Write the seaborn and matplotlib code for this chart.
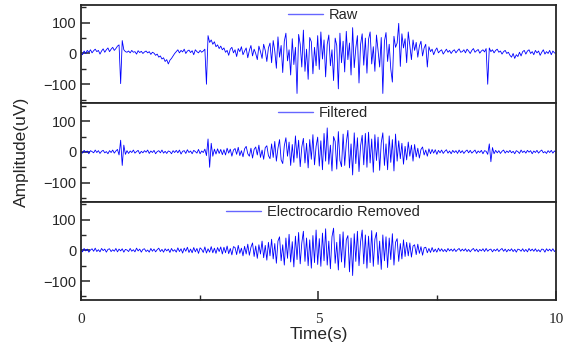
import numpy as np
import pandas as pd
import matplotlib
matplotlib.use('Agg')
import matplotlib.pyplot as plt
import seaborn as sns
from matplotlib.ticker import MultipleLocator

# sinyal EMG (uV), 30 sampel per detik (satu baris = 1 detik)
raw = [
    2, -4, 8, 0, 10, 4, 12, 2, 9, 14, 6, 10, -2, 8, 15, 4, 12, 18, 6, 14, 20, 10, 16, 24, 28, -98, 42, 12, 6, 4,
    8, 2, 10, 4, 6, -2, 9, 3, 7, 0, 5, 8, 2, 6, -3, 4, 1, -6, -2, -12, -8, -18, -14, -26, -20, -34, -22, -16, -8, 0,
    6, 12, 2, 10, 5, 14, 0, 8, 11, 3, 9, -4, 12, 6, 2, 10, 4, 8, 14, -100, 58, 36, 44, 30, 38, 22, 28, 16, 24, 12,
    18, 4, 10, -6, 14, 20, 2, 12, -10, 16, 6, 22, -4, 8, 18, -14, 10, 26, -8, 14, 0, -20, 24, 6, -16, 30, 10, -26, 18, 34,
    -30, 42, 8, -48, 54, -12, 26, -62, 40, 66, -24, 12, -70, 48, -36, 20, -130, 62, 30, -44, 76, -58, 14, -84, 52, 38, -66, 20, -40, 58,
    -52, 70, -18, 44, -76, 30, 60, -40, 12, -88, 50, 26, -115, 66, -30, 40, -60, 72, -20, 34, -70, 84, -46, 18, 58, -96, 30, 64, -38, 50,
    -64, 46, 70, -34, 22, -58, 60, 10, -44, 52, -130, 40, 68, -26, 30, -50, -93, 56, 20, 34, 98, -42, 64, 18, 48, -30, 70, 26, -20, 44,
    10, 36, -12, 24, 40, -8, 18, 30, -44, 22, 6, 14, -4, 10, 18, 2, 8, 12, -2, 6, 14, 4, 10, 0, 8, 12, 2, 9, 15, 4,
    6, 12, 2, 14, 8, 0, 10, 16, 4, 9, 13, 1, 8, 12, 5, 16, -100, 18, 6, 12, 2, 10, 14, 4, 8, -2, 6, 10, 0, 4,
    -6, -12, 0, -16, -4, -10, 4, -8, 6, 10, -2, 8, 12, 0, 6, -4, 10, 2, 8, -6, 4, 12, -2, 6, 0, 10, -4, 8, 2, 0,
]
filtered = [
    2, -4, 5, -1, 3, -6, 4, 1, -3, 6, -2, 4, -5, 2, 5, -3, 1, -6, 4, -2, 6, -4, 3, 8, -10, 38, -44, 22, -8, 4,
    -5, 3, -2, 6, -4, 1, 5, -6, 2, -3, 4, -1, 6, -5, 3, -2, 5, -6, 1, 4, -3, 6, -4, 2, -5, 3, 1, -6, 4, -2,
    5, -3, 6, -7, 2, 4, -5, 7, -2, 3, -6, 5, 1, -4, 8, -6, 3, -2, 9, -12, 42, -50, 28, -14, 9, -7, 10, -5, 8, -9,
    7, -10, 12, -4, 9, -14, 6, 11, -8, 15, -12, 4, -16, 10, 18, -6, -14, 12, -20, 8, 16, -10, 22, -18, 6, -24, 14, 20, -12, -22,
    26, -18, 34, -30, 12, 40, -26, -38, 20, 46, -14, 32, -44, 24, -34, 52, -20, 38, -48, 16, 44, -36, 28, -52, 40, -24, 56, -42, 18, 48,
    -46, 36, -58, 60, -30, 78, -40, 22, -62, 50, 34, -56, 66, -28, -48, 58, -44, 30, 70, -52, 26, -75, 62, -38, 46, -64, 20, 54, -42, 60,
    -50, 64, -36, 42, -66, 56, -28, 48, -60, 30, 62, -44, 26, -58, 52, -34, 40, -62, 58, -30, 36, -22, 28, -40, 18, -26, 32, -14, 22, -30,
    24, -16, 12, -20, 8, 16, -10, 6, -14, 10, -6, 8, -4, 7, -8, 5, -3, 6, -5, 2, 7, -4, 3, -6, 5, -2, 4, -5, 6, -3,
    4, -5, 2, 6, -3, 5, -4, 1, 6, -5, 3, -2, 5, -6, 4, 2, -8, 26, -32, 14, -6, 5, -3, 4, -5, 2, 6, -4, 3, -2,
    5, -3, 2, -6, 4, 1, -5, 6, -2, 3, -4, 5, -1, 4, -6, 3, -2, 5, -4, 2, 6, -3, 1, -5, 4, -2, 5, -4, 3, -1,
]
ecg_removed = [
    3, -5, 6, -2, 4, -6, 1, 5, -3, 7, -4, 2, -5, 6, -1, 4, -6, 3, 5, -4, 2, -3, 6, -5, 4, -2, 5, -6, 3, 1,
    -4, 6, -3, 2, -5, 7, -2, 4, -6, 3, 5, -4, 1, -6, 6, -3, 4, -5, 2, 7, -4, 3, -6, 5, -2, 4, -7, 6, -3, 2,
    -6, 8, -4, 5, -9, 7, -3, 10, -7, 4, -8, 9, -5, 6, -10, 8, 3, -7, 11, -9, 5, -6, 12, -8, 7, -10, 9, -4, 11, -12,
    10, -8, 14, -11, 6, -15, 12, 9, -14, 16, -10, 7, -18, 13, -12, 20, -16, 10, 24, -20, 14, -26, 18, -12, 30, -24, 16, -32, 26, -18,
    36, -28, 22, -42, 30, 44, -34, 18, -48, 40, -26, 52, -38, 28, -54, 46, -30, 58, -44, 24, 62, -36, 40, -50, 34, -58, 48, -40, 66, -46,
    38, -52, 56, -34, 70, -48, 30, -60, 44, 72, -42, 26, -64, 52, -38, 60, -56, 34, 48, -70, 40, -82, 54, -36, 62, -50, 28, 66, -44, 50,
    -58, 46, -40, 64, -52, 36, 58, -46, 30, -62, 50, -34, 44, -56, 40, -30, 54, -48, 26, 38, -36, 22, -28, 34, -20, 26, -18, 24, -22, 14,
    18, -14, 20, -10, 12, -16, 8, 10, -8, 6, -7, 9, -5, 4, -6, 7, -3, 5, -4, 3, -5, 6, -2, 4, -3, 5, -4, 2, 6, -3,
    4, -2, 5, -4, 3, -5, 2, 6, -3, 4, -5, 3, -2, 5, -4, 6, -3, 2, 4, -5, 3, -2, 5, -4, 2, 6, -3, 4, -5, 3,
    -2, 5, -4, 3, -6, 4, 2, -3, 5, -4, 3, -5, 6, -2, 4, -3, 5, -4, 2, -5, 4, 3, -6, 5, -2, 4, -3, 5, -4, 2,
]
labels = ['Raw', 'Filtered', 'Electrocardio Removed']
xticks = [0, 5, 10]

series = [raw, filtered, ecg_removed]

sns.set_style('ticks')
plt.rcParams['font.family'] = ['Liberation Sans', 'DejaVu Sans']
plt.rcParams['xtick.direction'] = 'in'
plt.rcParams['ytick.direction'] = 'in'

fig, axes = plt.subplots(3, 1, figsize=(5.78, 3.49), dpi=100, sharex=True)
fig.subplots_adjust(left=0.140, right=0.962, top=0.986, bottom=0.140, hspace=0)

for ax, name, vals in zip(axes, labels, series):
    df = pd.DataFrame({'Time': np.linspace(0, 10, len(vals)), name: vals})
    sns.lineplot(data=df, x='Time', y=name, ax=ax, color='#0000ff',
                 linewidth=0.6, label=name)
    ax.set_xlim(0, 10)
    ax.set_ylim(-162, 158)
    ax.yaxis.set_major_locator(MultipleLocator(100))
    ax.yaxis.set_minor_locator(MultipleLocator(50))
    ax.xaxis.set_minor_locator(MultipleLocator(2.5))
    ax.tick_params(axis='y', which='major', length=6.5, width=1.1, labelsize=10.5, pad=3)
    ax.tick_params(axis='y', which='minor', length=3.5, width=1.0)
    ax.tick_params(axis='x', which='major', length=6.5, width=1.1, pad=9)
    ax.tick_params(axis='x', which='minor', length=3.5, width=1.0)
    for s in ax.spines.values():
        s.set_linewidth(1.3)
    ax.set_ylabel('')
    ax.set_xlabel('')
    leg = ax.legend(loc='upper center', bbox_to_anchor=(0.51, 1.0), frameon=False,
                    fontsize=10.5, handlelength=2.4, borderpad=0.2, borderaxespad=0,
                    handletextpad=0.4)
    for h in leg.get_lines():
        h.set_linewidth(1.0)
        h.set_alpha(0.6)

for ax in axes[:-1]:
    ax.tick_params(axis='x', which='both', bottom=False, labelbottom=False)

axes[-1].set_xticks(xticks)
axes[-1].set_xticklabels([str(v) for v in xticks], fontfamily='Liberation Serif', fontsize=11)
axes[-1].set_xlabel('Time(s)', fontsize=12.5, labelpad=1)
fig.text(0.038, 0.565, 'Amplitude(uV)', rotation=90, va='center', ha='center', fontsize=12.5)

fig.savefig('out.png', dpi=100)
